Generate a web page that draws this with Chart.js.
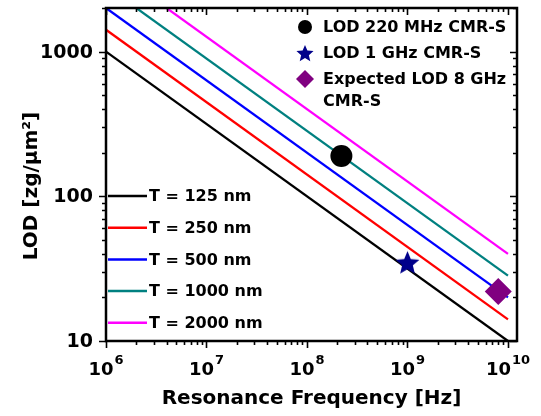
<!DOCTYPE html>
<html lang="en">
<head>
<meta charset="UTF-8">
<title>LOD vs Resonance Frequency</title>
<script src="https://cdn.jsdelivr.net/npm/chart.js@4"></script>
<style>
  body { margin: 0; background: #fff; }
  canvas { display: block; }
</style>
</head>
<body>
<canvas id="lodChart" width="541" height="416"></canvas>
<script>
// each thickness is a straight line on log-log axes, so two end points are enough
const freqEnds = [1e6, 1e10];
const thicknessLabels = ['T = 125 nm', 'T = 250 nm', 'T = 500 nm', 'T = 1000 nm', 'T = 2000 nm'];
const lod125 = [1000, 10];
const lod250 = [1414, 14.1];
const lod500 = [2000, 20];
const lod1000 = [2828, 28.3];
const lod2000 = [4000, 40];
const lineColors = ['#000000', '#ff0000', '#0000ff', '#008080', '#ff00ff'];

// measured / expected points
const markerLabels = [['LOD 220 MHz CMR-S'], ['LOD 1 GHz CMR-S'], ['Expected LOD 8 GHz', 'CMR-S']];
const markerFreqs = [2.2e8, 1e9, 8e9];
const markerLods = [190, 35, 22];
const markerColors = ['#000000', '#00008b', '#800080'];

const xTicks = [1e6, 1e7, 1e8, 1e9, 1e10];
const xTickExponents = ['6', '7', '8', '9', '10'];
const yTicks = [10, 100, 1000];
const yTickLabels = ['10', '100', '1000'];
const yTitle = 'LOD [zg/\u03bcm\u00b2]';

const FONT = '"DejaVu Sans", sans-serif';

function starCanvas(r, color) {
    const c = document.createElement('canvas');
    c.width = c.height = Math.ceil(2 * r + 2);
    const g = c.getContext('2d');
    const cx = c.width / 2, cy = c.height / 2 + r * 0.1;
    g.fillStyle = color;
    g.beginPath();
    for (let i = 0; i < 10; i++) {
        const rad = i % 2 ? r * 0.45 : r;
        const ang = -Math.PI / 2 + i * Math.PI / 5;
        g.lineTo(cx + rad * Math.cos(ang), cy + rad * Math.sin(ang));
    }
    g.closePath();
    g.fill();
    return c;
}

const markerStyles = ['circle', starCanvas(12.5, markerColors[1]), 'rectRot'];
const markerRadius = [11, 12.5, 13.5];
const legendStar = starCanvas(9, markerColors[1]);

const datasets = [];
[lod125, lod250, lod500, lod1000, lod2000].forEach((s, i) => {
    datasets.push({
        label: thicknessLabels[i],
        data: freqEnds.map((f, j) => ({x: f, y: s[j]})),
        showLine: true,
        borderColor: lineColors[i],
        borderWidth: 2.3,
        pointRadius: 0,
        order: 1
    });
});
markerFreqs.forEach((f, i) => {
    datasets.push({
        label: markerLabels[i].join(' '),
        data: [{x: f, y: markerLods[i]}],
        pointStyle: markerStyles[i],
        pointRadius: markerRadius[i],
        backgroundColor: markerColors[i],
        borderColor: markerColors[i],
        borderWidth: 0,
        order: 0
    });
});

function minorValues(min, max) {
    const out = [];
    for (let d = Math.floor(Math.log10(min)); d <= Math.ceil(Math.log10(max)); d++) {
        for (let k = 1; k <= 9; k++) {
            const v = k * Math.pow(10, d);
            if (v >= min && v <= max) out.push({v, major: k === 1});
        }
    }
    return out;
}

// box, inward/outward tick marks, tick labels, y title, both legends
const decorations = {
    id: 'decorations',
    afterDraw(chart) {
        const {ctx, chartArea: a, scales: {x, y}} = chart;
        ctx.save();
        ctx.strokeStyle = '#000';
        ctx.lineCap = 'butt';

        ctx.lineWidth = 1.6;
        ctx.beginPath();
        minorValues(1e6, 1e10).forEach(t => {
            const px = Math.round(x.getPixelForValue(t.v)) + 0.5;
            const len = t.major ? 7 : 4;
            ctx.moveTo(px, a.bottom); ctx.lineTo(px, a.bottom + len);
            ctx.moveTo(px, a.top); ctx.lineTo(px, a.top + len);
        });
        minorValues(10, 2000).forEach(t => {
            const py = Math.round(y.getPixelForValue(t.v)) + 0.5;
            const len = t.major ? 7 : 4;
            ctx.moveTo(a.left, py); ctx.lineTo(a.left - len, py);
            ctx.moveTo(a.right, py); ctx.lineTo(a.right - len, py);
        });
        ctx.stroke();

        ctx.lineWidth = 2.5;
        ctx.strokeRect(a.left, a.top, a.right - a.left, a.bottom - a.top);

        // x tick labels: 10 with a raised exponent
        ctx.fillStyle = '#000';
        ctx.textBaseline = 'alphabetic';
        ctx.textAlign = 'left';
        xTicks.forEach((v, i) => {
            const px = x.getPixelForValue(v);
            ctx.font = 'bold 18px ' + FONT;
            const w1 = ctx.measureText('10').width;
            ctx.font = 'bold 13px ' + FONT;
            const w2 = ctx.measureText(xTickExponents[i]).width;
            const start = px - (w1 + w2 + 1) / 2;
            ctx.font = 'bold 18px ' + FONT;
            ctx.fillText('10', start, 375);
            ctx.font = 'bold 13px ' + FONT;
            ctx.fillText(xTickExponents[i], start + w1 + 1, 364);
        });

        // y tick labels
        ctx.font = 'bold 19px ' + FONT;
        ctx.textAlign = 'right';
        ctx.textBaseline = 'middle';
        yTicks.forEach((v, i) => ctx.fillText(yTickLabels[i], a.left - 13, y.getPixelForValue(v) + 1));

        // y title, sits a little below the plot centre in the original
        ctx.save();
        ctx.translate(32, 186);
        ctx.rotate(-Math.PI / 2);
        ctx.textAlign = 'center';
        ctx.font = 'bold 20px ' + FONT;
        ctx.fillText(yTitle, 0, 0);
        ctx.restore();

        // line legend, lower left
        ctx.textAlign = 'left';
        ctx.font = 'bold 16px ' + FONT;
        thicknessLabels.forEach((t, i) => {
            const ly = 196 + i * 31.7;
            ctx.strokeStyle = lineColors[i];
            ctx.lineWidth = 2.5;
            ctx.beginPath();
            ctx.moveTo(108, ly);
            ctx.lineTo(147, ly);
            ctx.stroke();
            ctx.fillText(t, 149, ly + 1);
        });

        // marker legend, upper right
        markerLabels.forEach((lines, i) => {
            const ly = 27 + i * 26;
            const mx = 305;
            ctx.fillStyle = markerColors[i];
            ctx.beginPath();
            if (i === 0) {
                ctx.arc(mx, ly, 7, 0, Math.PI * 2);
                ctx.fill();
            } else if (i === 1) {
                ctx.drawImage(legendStar, mx - legendStar.width / 2, ly - legendStar.height / 2);
            } else {
                ctx.moveTo(mx, ly - 9); ctx.lineTo(mx + 9, ly);
                ctx.lineTo(mx, ly + 9); ctx.lineTo(mx - 9, ly);
                ctx.closePath();
                ctx.fill();
            }
            ctx.fillStyle = '#000';
            lines.forEach((txt, k) => ctx.fillText(txt, 323, ly + 1 + k * 22));
        });
        ctx.restore();
    }
};

new Chart(document.getElementById('lodChart'), {
    type: 'scatter',
    data: {datasets},
    options: {
        responsive: false,
        animation: false,
        devicePixelRatio: 1,
        layout: {autoPadding: false, padding: {left: 0, right: 24, top: 8, bottom: 0}},
        plugins: {legend: {display: false}, tooltip: {enabled: false}},
        scales: {
            x: {
                type: 'logarithmic',
                min: 1e6,
                max: 1.23e10,
                grid: {display: false, drawTicks: false},
                border: {display: false},
                ticks: {display: false},
                afterFit: s => { s.height = 75; },
                title: {
                    display: true,
                    text: 'Resonance Frequency [Hz]',
                    color: '#000',
                    font: {family: FONT, size: 20, weight: 'bold'},
                    padding: {top: 0, bottom: 5}
                }
            },
            y: {
                type: 'logarithmic',
                min: 10,
                max: 2000,
                grid: {display: false, drawTicks: false},
                border: {display: false},
                ticks: {display: false},
                afterFit: s => { s.width = 106; }
            }
        }
    },
    plugins: [decorations]
});
</script>
</body>
</html>
